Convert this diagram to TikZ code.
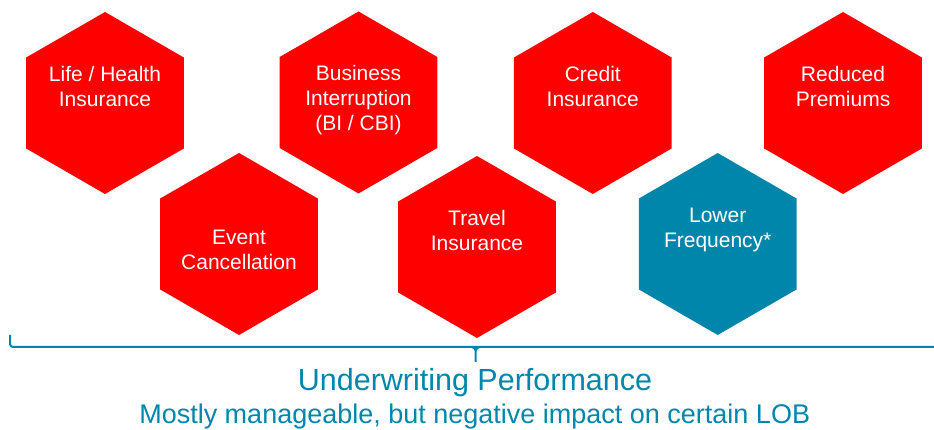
\documentclass[tikz,border=0pt]{standalone}
\usepackage{fontspec}
\setmainfont{Liberation Sans}
\usetikzlibrary{shapes.geometric}

\definecolor{lobred}{RGB}{255,0,0}
\definecolor{lobteal}{RGB}{0,134,170}

\tikzset{
    hex/.style={regular polygon, regular polygon sides=6, shape border rotate=30,
        minimum size=182pt, inner sep=0pt, fill=lobred},
    hexlabel/.style={text=white, align=center, anchor=base,
        font=\fontsize{21}{25}\selectfont},
    bracket/.style={lobteal, line width=2pt},
}

\begin{document}
\begin{tikzpicture}[x=1pt,y=1pt]
    \useasboundingbox (0,0) rectangle (934,430);
    
    % top row
    \node[hex] (life) at (105,327) {};
    \node[hex] (bi) at (358.5,327.5) {};
    \node[hex] (credit) at (592.8,327) {};
    \node[hex] (premiums) at (843,327) {};
    
    % bottom row
    \node[hex] (event) at (239,186) {};
    \node[hex] (travel) at (477,183) {};
    \node[hex, fill=lobteal] (frequency) at (717.7,186) {};
    
    % labels (base = last line)
    \node[hexlabel] (lifetext) at ([yshift=-3.7pt]life.center) {Life / Health\\Insurance};
    \node[hexlabel] (bitext) at ([yshift=-28.5pt]bi.center) {Business\\Interruption\\(BI / CBI)};
    \node[hexlabel] (credittext) at ([yshift=-3.3pt]credit.center) {Credit\\Insurance};
    \node[hexlabel] (premiumstext) at ([yshift=-3.3pt]premiums.center) {Reduced\\Premiums};
    \node[hexlabel] (eventtext) at ([yshift=-25.3pt]event.center) {Event\\Cancellation};
    \node[hexlabel] (traveltext) at ([yshift=-4pt]travel.center) {Travel\\Insurance};
    \node[hexlabel] (frequencytext) at ([yshift=-3.7pt]frequency.center) {Lower\\Frequency*};
    
    % brace
    \coordinate (braceL) at (10,95);
    \coordinate (braceR) at (940,83);
    \coordinate (braceM) at (475.7,83);
    \coordinate (braceTip) at (475.7,68);
    \draw[bracket, rounded corners=3pt] (braceL) |- (braceR);
    \draw[bracket] ([xshift=-4pt]braceM) to[out=0,in=90] ([yshift=-4pt]braceM) -- (braceTip);
    \draw[bracket] ([xshift=4pt]braceM) to[out=180,in=90] ([yshift=-4pt]braceM);
    
    \node[anchor=base, text=lobteal, font=\fontsize{30.5}{36}\selectfont] (uw) at (475,39.3) {Underwriting Performance};
    \node[anchor=base, text=lobteal, font=\fontsize{27}{32}\selectfont] (lob) at (474.7,6.5) {Mostly manageable, but negative impact on certain LOB};
\end{tikzpicture}
\end{document}
